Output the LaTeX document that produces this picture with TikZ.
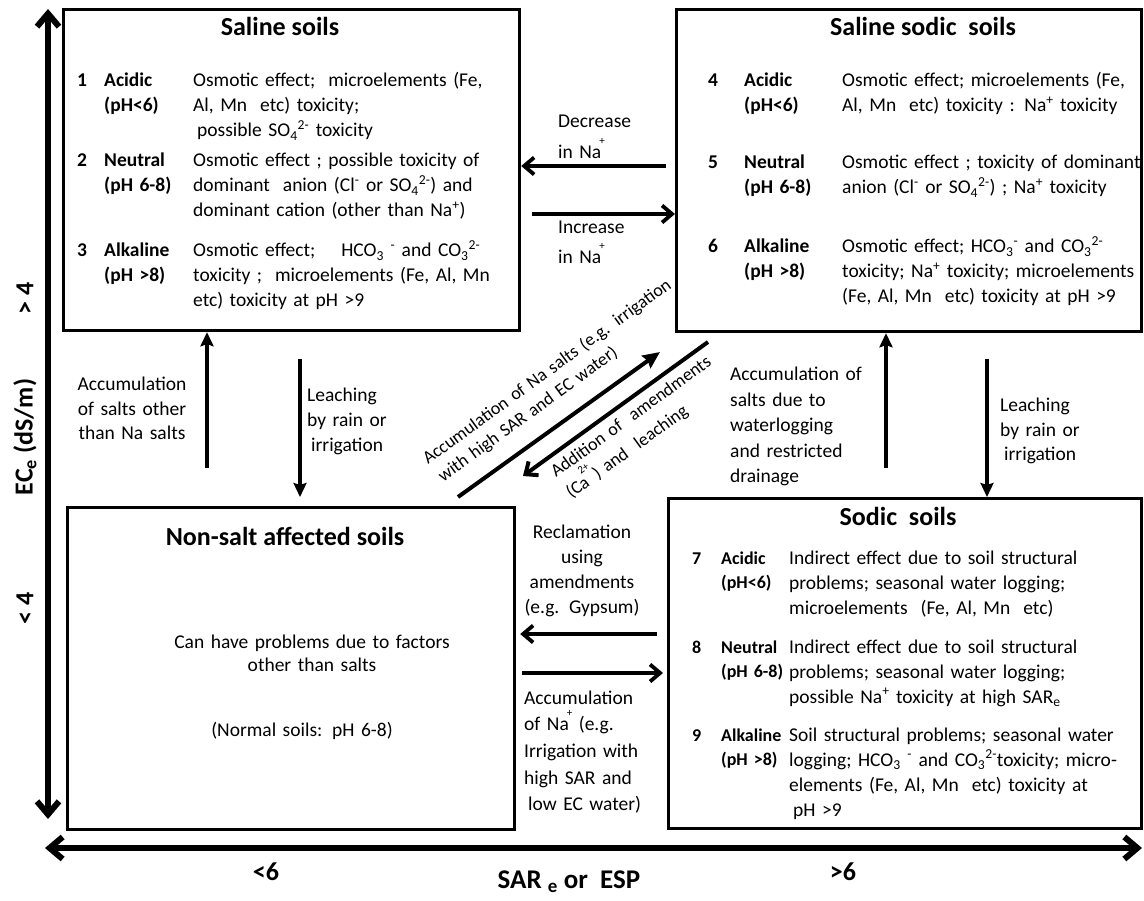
\documentclass[tikz,border=0pt]{standalone}
\usepackage{fontspec}
\setmainfont{Carlito}
\usetikzlibrary{arrows.meta}
\newcommand\tsup[1]{\textsuperscript{#1}}
\newcommand\tsub[1]{\textsubscript{#1}}
\newcommand\hiplus[1][+]{\kern-2pt\raisebox{14pt}{\fontsize{11}{11}\selectfont #1}}
\begin{document}
\begin{tikzpicture}[x=1pt,y=-1pt,
  box/.style={draw, line width=3.2pt, rectangle, inner sep=0pt, anchor=north west},
  title/.style={font=\fontsize{26}{30}\selectfont\bfseries, inner sep=0pt, anchor=base},
  num/.style={font=\fontsize{19.5}{25}\selectfont\bfseries, inner sep=0pt, anchor=base west},
  nums/.style={font=\fontsize{18}{24.5}\selectfont\bfseries, inner sep=0pt, anchor=base west},
  lab/.style={font=\fontsize{19.5}{25}\selectfont\bfseries, inner sep=0pt, anchor=base west, align=left, text width=80pt},
  labs/.style={font=\fontsize{18}{24.5}\selectfont\bfseries, inner sep=0pt, anchor=base west, align=left, text width=64pt},
  desc/.style={font=\fontsize{19.5}{25}\selectfont, inner sep=0pt, anchor=base west, align=left, text width=320pt},
  note/.style={font=\fontsize{19.5}{25}\selectfont, inner sep=0pt, anchor=base west, align=left, text width=110pt},
  notec/.style={font=\fontsize{19.5}{25}\selectfont, inner sep=0pt, anchor=base, align=center, text width=200pt},
  diag/.style={font=\fontsize{18.1}{23}\selectfont, inner sep=0pt, anchor=base west, rotate=36, align=left, text width=360pt},
  axl/.style={font=\fontsize{26}{30}\selectfont\bfseries, inner sep=0pt, anchor=center},
  conn/.style={line width=3.8pt},
  openhead/.style={-{Straight Barb[length=10pt,width=17pt]}},
  fillhead/.style={-{Stealth[length=14pt,width=13pt,inset=2pt]}},
  axis/.style={line width=6pt, {Straight Barb[length=13pt,width=22pt]}-{Straight Barb[length=13pt,width=22pt]}}
]
\fill[white] (0,0) rectangle (1144,901);
\useasboundingbox (0,0) rectangle (1144,901);

% boxes
\node[box, minimum width=456pt, minimum height=321pt] (saline) at (62,8) {};
\node[box, minimum width=465pt, minimum height=322pt] (salsod) at (675,8) {};
\node[box, minimum width=447pt, minimum height=322pt] (nonsalt) at (66,506) {};
\node[box, minimum width=473pt, minimum height=330pt] (sodic) at (667,497) {};

% titles
\node[title] (t1) at (280,36) {Saline soils};
\node[title] (t2) at (923,36) {Saline sodic~ soils};
\node[title] (t3) at (285,545) {Non-salt affected soils};
\node[title] (t4) at (898,525) {Sodic~ soils};

% saline rows
\node[num] (n1) at (77,87) {1};
\node[lab] (l1) at (104,87) {Acidic\\(pH<6)};
\node[desc] (d1) at (193,87) {Osmotic effect;~ microelements (Fe,\\Al, Mn~ etc) toxicity;\\\hspace*{4pt}possible SO\tsub{4}\tsup{2-} toxicity};
\node[num] (n2) at (77,167) {2};
\node[lab] (l2) at (104,167) {Neutral\\(pH 6-8)};
\node[desc] (d2) at (193,167) {Osmotic effect ; possible toxicity of\\dominant~ anion (Cl\tsup{-} or SO\tsub{4}\tsup{2-}) and\\dominant cation (other than Na\tsup{+})};
\node[num] (n3) at (77,257) {3};
\node[lab] (l3) at (104,257) {Alkaline\\(pH >8)};
\node[desc] (d3) at (193,257) {Osmotic effect;~~~ HCO\tsub{3}\tsup{~-} and CO\tsub{3}\tsup{2-}\\toxicity ;~ microelements (Fe, Al, Mn\\etc) toxicity at pH >9};

% saline sodic rows
\node[num] (n4) at (708,87) {4};
\node[lab] (l4) at (744,87) {Acidic\\(pH<6)};
\node[desc] (d4) at (842,87) {Osmotic effect; microelements (Fe,\\Al, Mn~ etc) toxicity : Na\tsup{+} toxicity};
\node[num] (n5) at (708,169) {5};
\node[lab] (l5) at (744,169) {Neutral\\(pH 6-8)};
\node[desc] (d5) at (842,169) {Osmotic effect ; toxicity of dominant\\anion (Cl\tsup{-} or SO\tsub{4}\tsup{2-}) ; Na\tsup{+} toxicity};
\node[num] (n6) at (708,253) {6};
\node[lab] (l6) at (744,253) {Alkaline\\(pH >8)};
\node[desc] (d6) at (842,253) {Osmotic effect; HCO\tsub{3}\tsup{-} and CO\tsub{3}\tsup{2-}\\toxicity; Na\tsup{+} toxicity; microelements\\(Fe, Al, Mn~ etc) toxicity at pH >9};

% sodic rows
\node[nums] (n7) at (692,564) {7};
\node[labs] (l7) at (721,564) {Acidic\\(pH<6)};
\node[desc, text width=345pt] (d7) at (789,564) {Indirect effect due to soil structural\\problems; seasonal water logging;\\microelements~ (Fe, Al, Mn~ etc)};
\node[nums] (n8) at (692,653) {8};
\node[labs] (l8) at (721,653) {Neutral\\(pH 6-8)};
\node[desc, text width=345pt] (d8) at (789,653) {Indirect effect due to soil structural\\problems; seasonal water logging;\\possible Na\tsup{+} toxicity at high SAR\tsub{e}};
\node[nums] (n9) at (692,741) {9};
\node[labs] (l9) at (721,741) {Alkaline\\(pH >8)};
\node[desc, text width=345pt] (d9) at (789,741) {Soil structural problems; seasonal water\\logging; HCO\tsub{3}\tsup{~-} and CO\tsub{3}\tsup{2-}toxicity; micro-\\elements (Fe, Al, Mn~ etc) toxicity at\\\hspace*{4pt}pH >9};

% non-salt body
\node[notec, text width=300pt, font=\fontsize{19.5}{23}\selectfont] (ns1) at (312,648) {Can have problems due to factors\\other than salts};
\node[notec, text width=300pt] (ns2) at (302,736) {(Normal soils: pH 6-8)};

% middle labels
\node[note, font=\fontsize{19.5}{31}\selectfont] (dec) at (558,128) {Decrease\\in Na\hiplus};
\node[note, font=\fontsize{19.5}{30}\selectfont] (inc) at (558,234) {Increase\\in Na\hiplus};
\node[notec, text width=130pt, font=\fontsize{19.5}{24.5}\selectfont] (accL) at (132,391) {Accumulation\\of salts other\\than Na salts};
\node[note] (leachL) at (307,402) {Leaching\\by rain or\\\hspace*{4pt}irrigation};
\node[note, text width=150pt, font=\fontsize{19.5}{25.5}\selectfont] (accR) at (730,381) {Accumulation of\\salts due to\\waterlogging\\and restricted\\drainage};
\node[note] (leachR) at (1000,411) {Leaching\\by rain or\\\hspace*{4pt}irrigation};
\node[notec, text width=140pt] (recl) at (582,538) {Reclamation\\using\\amendments\\(e.g. Gypsum)};
\node[note, text width=140pt, font=\fontsize{19.5}{26.7}\selectfont] (accB) at (524,704) {Accumulation\\of Na\hiplus~(e.g.\\Irrigation with\\high SAR and\\\hspace*{4pt}low EC water)};

% diagonal labels
\node[diag] (dl1) at (428,465) {Accumulation of Na salts (e.g. irrigation\\\hspace*{2pt}with high SAR and EC water)};
\node[diag, text width=260pt, font=\fontsize{18.1}{26}\selectfont] (dl3) at (556,478) {Addition of~ amendments\\(Ca\hiplus[2+]) and~ leaching};

% connectors
\coordinate (a1s) at (666,166);
\draw[conn,openhead] (a1s) -- (saline.east |- a1s);
\coordinate (a2s) at (532,214);
\draw[conn,openhead] (a2s) -- (salsod.west |- a2s);
\coordinate (a3s) at (207,468);
\draw[conn,fillhead] (a3s) -- (saline.south -| a3s);
\coordinate (a4s) at (300,359);
\draw[conn,fillhead,shorten >=9pt] (a4s) -- (nonsalt.north -| a4s);
\coordinate (a5s) at (886,468);
\draw[conn,fillhead] (a5s) -- (salsod.south -| a5s);
\coordinate (a6s) at (987,359);
\draw[conn,fillhead] (a6s) -- (sodic.north -| a6s);
\coordinate (a7s) at (657,634);
\draw[conn,openhead,shorten >=4pt] (a7s) -- (nonsalt.east |- a7s);
\coordinate (a8s) at (522,673);
\draw[conn,openhead,shorten >=4pt] (a8s) -- (sodic.west |- a8s);
\coordinate (b1s) at (458,497);
\coordinate (b1e) at (660,352);
\draw[line width=4pt,-{Stealth[length=17pt,width=15pt,inset=2pt]}] (b1s) -- (b1e);
\coordinate (b2s) at (708,342);
\coordinate (b2e) at (523,476);
\draw[line width=4pt,openhead] (b2s) -- (b2e);

% axes
\coordinate (vtop) at (48,9);
\coordinate (vbot) at (48,819);
\draw[axis] (vbot) -- (vtop);
\coordinate (hl) at (45,848);
\coordinate (hr) at (1142,848);
\draw[axis] (hl) -- (hr);

\node[axl, rotate=90] (ygt) at (25,298) {>~4};
\node[axl, rotate=90] (yec) at (25,437) {EC\tsub{e}~(dS/m)};
\node[axl, rotate=90] (ylt) at (25,608) {<~4};
\node[axl] (xlt) at (266,872) {<6};
\node[axl, font=\fontsize{27}{30}\selectfont\bfseries] (xsar) at (569,882) {SAR \tsub{e} or~ ESP};
\node[axl] (xgt) at (843,872) {>6};
\end{tikzpicture}
\end{document}
